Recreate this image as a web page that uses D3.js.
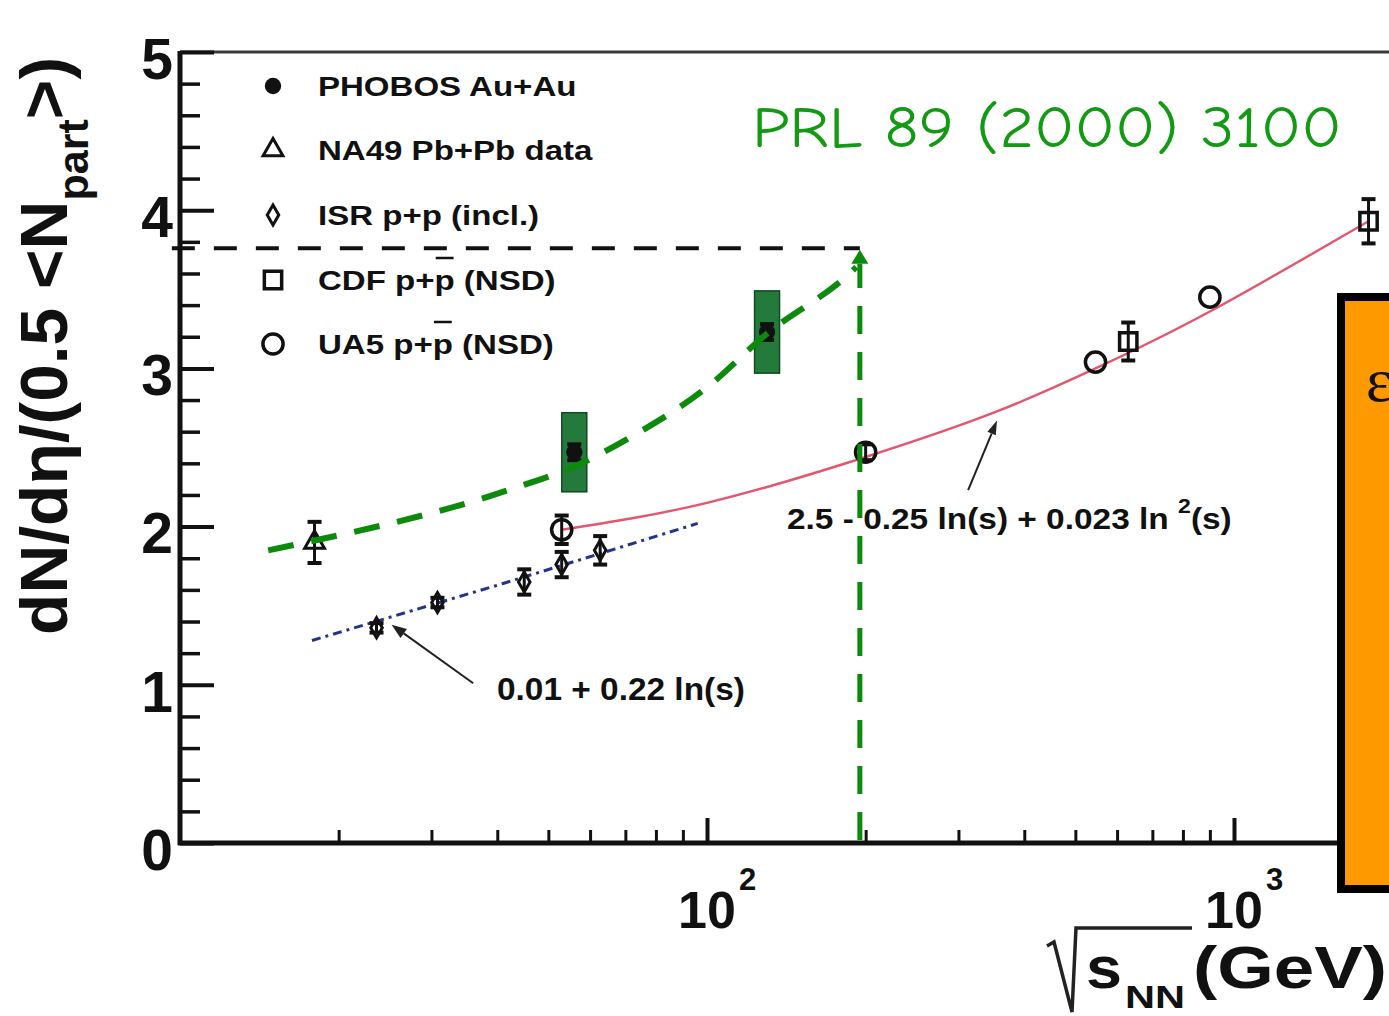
<!DOCTYPE html>
<html>
<head>
<meta charset="utf-8">
<script src="https://cdn.jsdelivr.net/npm/d3@7"></script>
<style>
  html, body { margin: 0; padding: 0; background: #fff; }
  svg { display: block; }
</style>
</head>
<body>
<svg id="chart" width="1389" height="1016"></svg>
<script>
// ---------- data ----------
// PHOBOS Au+Au (sqrt(s_NN) in GeV, dN/deta per participant pair)
const phobosEnergy = [56, 130];
const phobosValue  = [2.47, 3.23];
const phobosStat   = [0.05, 0.05];
const phobosSyst   = [0.25, 0.26];

// NA49 Pb+Pb
const na49Energy = [18];
const na49Value  = [1.90];
const na49Err    = [0.13];

// ISR p+p (inclusive)
const isrEnergy = [23.6, 30.8, 45, 53, 62.7];
const isrValue  = [1.36, 1.52, 1.65, 1.76, 1.85];
const isrErr    = [0.03, 0.03, 0.08, 0.08, 0.09];

// UA5 p+pbar (NSD)
const ua5Energy = [53, 200, 546, 900];
const ua5Value  = [1.98, 2.47, 3.04, 3.45];
const ua5Err    = [0.09, 0.05, 0, 0];

// CDF p+pbar (NSD)
const cdfEnergy = [630, 1800];
const cdfValue  = [3.17, 3.93];
const cdfErr    = [0.12, 0.14];

// fit curves through the p+p(bar) data
const fitLowEnergy  = [17.8, 41, 96];
const fitLowValue   = [1.28, 1.64, 2.02];
const fitHighEnergy = [53, 100, 200, 350, 546, 900, 1800];
const fitHighValue  = [1.98, 2.15, 2.44, 2.72, 3.00, 3.36, 3.93];

// extrapolated heavy-ion trend (green dashed)
const trendEnergy = [14.7, 42.8, 56, 72, 100, 130, 185, 192];
const trendValue  = [1.85, 2.24, 2.38, 2.57, 2.88, 3.22, 3.59, 3.64];

// reference read-off at sqrt(s_NN) ~ 200 GeV
const refEnergy = [9.65, 195];
const refValue  = [0, 3.76];
const refArrowTip = 3.75;

// annotation arrows: [tail, tip] as (energy, value)
const noteLowArrow  = [[36, 1.01], [25.2, 1.38]];
const noteHighArrow = [[313, 2.23], [355, 2.67]];

// axis ticks
const yMajor = [0, 1, 2, 3, 4, 5];
const yMinor = d3.range(0, 5.001, 0.2).filter(v => Math.abs(v - Math.round(v)) > 1e-6);
const xMajor = [100, 1000];
const xMajorExp = ["2", "3"];
const xMinor = [20, 30, 40, 50, 60, 70, 80, 90, 200, 300, 400, 500, 600, 700, 800, 900];

// legend
const legendLabels = ["PHOBOS Au+Au", "NA49 Pb+Pb data", "ISR p+p (incl.)", "CDF p+p (NSD)", "UA5 p+p (NSD)"];
const legendSymbols = ["dot", "triangle", "diamond", "square", "circle"];
const legendBarChar = [-1, -1, -1, 6, 6];   // index of the antiproton "p" that gets an overbar

// ---------- layout ----------
const FONT = "'Liberation Sans', Arial, Helvetica, sans-serif";
const svg = d3.select("#chart");
const x = d3.scaleLog().domain([10, 1000]).range([180, 1234]);
const y = d3.scaleLinear().domain([0, 5]).range([843, 52]);
const X0 = x.range()[0], Y0 = y.range()[0], YTOP = y.range()[1];

function stretchTo(sel, x0, width) {
  const w = sel.node().getBBox().width;
  const k = width / w;
  sel.attr("transform", `translate(${x0},0) scale(${k},1) translate(${-x0},0)`);
}

// ---------- frame ----------
svg.append("line").attr("x1", X0).attr("x2", 1389).attr("y1", YTOP).attr("y2", YTOP)
  .attr("stroke", "#3a3a3a").attr("stroke-width", 3);

// y axis: major ticks with labels, then minor ticks
const yAxisMajor = svg.append("g").attr("transform", `translate(${X0},0)`)
  .call(d3.axisLeft(y).tickValues(yMajor).tickSize(-34).tickPadding(7).tickFormat(d3.format("d")));
yAxisMajor.select(".domain").remove();
yAxisMajor.selectAll(".tick line").attr("stroke", "#111").attr("stroke-width", 4);
yAxisMajor.selectAll(".tick text").attr("dy", "0.46em")
  .style("font", `bold 57px ${FONT}`).attr("fill", "#111");

const yAxisMinor = svg.append("g").attr("transform", `translate(${X0},0)`)
  .call(d3.axisLeft(y).tickValues(yMinor).tickSize(-20).tickFormat(""));
yAxisMinor.select(".domain").remove();
yAxisMinor.selectAll(".tick line").attr("stroke", "#111").attr("stroke-width", 3.5);

// x axis: major and minor ticks pointing inwards
const xAxisMajor = svg.append("g").attr("transform", `translate(0,${Y0})`)
  .call(d3.axisBottom(x).tickValues(xMajor).tickSize(-25).tickFormat(""));
xAxisMajor.select(".domain").remove();
xAxisMajor.selectAll(".tick line").attr("stroke", "#111").attr("stroke-width", 4);

const xAxisMinor = svg.append("g").attr("transform", `translate(0,${Y0})`)
  .call(d3.axisBottom(x).tickValues(xMinor).tickSize(-13).tickFormat(""));
xAxisMinor.select(".domain").remove();
xAxisMinor.selectAll(".tick line").attr("stroke", "#111").attr("stroke-width", 3);

// axis lines
svg.append("line").attr("x1", X0).attr("x2", X0).attr("y1", YTOP - 1).attr("y2", Y0 + 2)
  .attr("stroke", "#111").attr("stroke-width", 5);
svg.append("line").attr("x1", X0 - 2).attr("x2", 1389).attr("y1", Y0).attr("y2", Y0)
  .attr("stroke", "#111").attr("stroke-width", 5);

// x tick labels 10^2, 10^3
xMajor.forEach((v, i) => {
  const cx = x(v);
  svg.append("text").attr("x", cx).attr("y", Y0 + 85).attr("text-anchor", "middle")
    .style("font", `bold 52px ${FONT}`).attr("fill", "#111").text("10");
  svg.append("text").attr("x", cx + 32).attr("y", Y0 + 47)
    .style("font", `bold 31px ${FONT}`).attr("fill", "#111").text(xMajorExp[i]);
});

// y axis title
const yTitle = svg.append("text").attr("text-anchor", "middle")
  .style("font", `bold 66px ${FONT}`).attr("fill", "#111");
yTitle.append("tspan").text("dN/dη/(0.5 <N");
yTitle.append("tspan").attr("dy", 21).style("font-size", "42px").text("part");
yTitle.append("tspan").attr("dy", -21).text(">)");
{
  const w = yTitle.node().getBBox().width;
  yTitle.attr("transform", `translate(67,346) rotate(-90) scale(${578 / w},1)`);
}

// x axis title: radical sign, s_NN, (GeV)
svg.append("path")
  .attr("d", "M1047,946 L1054,942 L1072,1012 L1076,928 L1192,928")
  .attr("fill", "none").attr("stroke", "#222").attr("stroke-width", 3.5)
  .attr("stroke-linejoin", "miter");
const sText = svg.append("text").attr("x", 1086).attr("y", 988)
  .style("font", `bold 60px ${FONT}`).attr("fill", "#111").text("s");
stretchTo(sText, 1086, 36);
const nnText = svg.append("text").attr("x", 1125).attr("y", 1008)
  .style("font", `bold 31px ${FONT}`).attr("fill", "#111").text("NN");
stretchTo(nnText, 1125, 60);
const gevText = svg.append("text").attr("x", 1193).attr("y", 988)
  .style("font", `bold 60px ${FONT}`).attr("fill", "#111").text("(GeV)");
stretchTo(gevText, 1193, 194);

// ---------- marker helpers ----------
const symbolPath = {
  dot:      d3.symbol(d3.symbolCircle, 210)(),
  circle:   d3.symbol(d3.symbolCircle, 320)(),
  square:   d3.symbol(d3.symbolSquare, 300)(),
  triangle: d3.symbol(d3.symbolTriangle, 170)(),
  diamond:  d3.symbol(d3.symbolDiamond, 115)()
};
function drawMarker(g, kind, cx, cy) {
  const p = g.append("path").attr("d", symbolPath[kind])
    .attr("transform", `translate(${cx},${cy})`);
  if (kind === "dot") p.attr("fill", "#111");
  else p.attr("fill", "none").attr("stroke", "#111")
    .attr("stroke-width", kind === "circle" || kind === "square" ? 3.5 : 3);
}
function drawErrorBars(g, energies, values, errs) {
  energies.forEach((e, i) => {
    if (!(errs[i] > 0)) return;
    const cx = x(e), lo = y(values[i] - errs[i]), hi = y(values[i] + errs[i]);
    g.append("line").attr("x1", cx).attr("x2", cx).attr("y1", lo).attr("y2", hi)
      .attr("stroke", "#111").attr("stroke-width", 3);
    [lo, hi].forEach(yy => g.append("line").attr("x1", cx - 7).attr("x2", cx + 7)
      .attr("y1", yy).attr("y2", yy).attr("stroke", "#111").attr("stroke-width", 4));
  });
}
function drawArrow(g, tail, tip, head, width, color, lw) {
  const x1 = x(tail[0]), y1 = y(tail[1]), x2 = x(tip[0]), y2 = y(tip[1]);
  const ang = Math.atan2(y2 - y1, x2 - x1);
  const bx = x2 - head * Math.cos(ang), by = y2 - head * Math.sin(ang);
  g.append("line").attr("x1", x1).attr("y1", y1).attr("x2", bx).attr("y2", by)
    .attr("stroke", color).attr("stroke-width", lw);
  const nx = -Math.sin(ang) * width / 2, ny = Math.cos(ang) * width / 2;
  g.append("polygon")
    .attr("points", `${x2},${y2} ${bx + nx},${by + ny} ${bx - nx},${by - ny}`)
    .attr("fill", color);
}

const plot = svg.append("g");
const line = d3.line().x(d => x(d[0])).y(d => y(d[1]));

// PHOBOS systematic boxes
phobosEnergy.forEach((e, i) => {
  plot.append("rect")
    .attr("x", x(e) - 12.5).attr("width", 25)
    .attr("y", y(phobosValue[i] + phobosSyst[i]))
    .attr("height", y(phobosValue[i] - phobosSyst[i]) - y(phobosValue[i] + phobosSyst[i]))
    .attr("fill", "#237a3a").attr("stroke", "#124a22").attr("stroke-width", 1.5);
});

// fit curves
plot.append("path").datum(d3.zip(fitLowEnergy, fitLowValue))
  .attr("d", line.curve(d3.curveLinear))
  .attr("fill", "none").attr("stroke", "#23338f").attr("stroke-width", 3)
  .attr("stroke-dasharray", "9,5,3,5");
plot.append("path").datum(d3.zip(fitHighEnergy, fitHighValue))
  .attr("d", line.curve(d3.curveNatural))
  .attr("fill", "none").attr("stroke", "#e5566e").attr("stroke-width", 2.4);

// data points
drawErrorBars(plot, na49Energy, na49Value, na49Err);
drawErrorBars(plot, isrEnergy, isrValue, isrErr);
drawErrorBars(plot, ua5Energy, ua5Value, ua5Err);
drawErrorBars(plot, cdfEnergy, cdfValue, cdfErr);
drawErrorBars(plot, phobosEnergy, phobosValue, phobosStat);
na49Energy.forEach((e, i) => drawMarker(plot, "triangle", x(e), y(na49Value[i])));
isrEnergy.forEach((e, i) => drawMarker(plot, "diamond", x(e), y(isrValue[i])));
ua5Energy.forEach((e, i) => drawMarker(plot, "circle", x(e), y(ua5Value[i])));
cdfEnergy.forEach((e, i) => drawMarker(plot, "square", x(e), y(cdfValue[i])));
phobosEnergy.forEach((e, i) => drawMarker(plot, "dot", x(e), y(phobosValue[i])));

// annotations of the fits
drawArrow(plot, noteLowArrow[0], noteLowArrow[1], 15, 11, "#222", 2);
drawArrow(plot, noteHighArrow[0], noteHighArrow[1], 14, 9, "#222", 2);
const lowNote = plot.append("text").attr("x", 497).attr("y", 700)
  .style("font", `bold 32px ${FONT}`).attr("fill", "#111").text("0.01 + 0.22 ln(s)");
stretchTo(lowNote, 497, 248);
const highNote = plot.append("text").attr("x", 787).attr("y", 529)
  .style("font", `bold 29px ${FONT}`).attr("fill", "#111");
highNote.append("tspan").text("2.5 - 0.25 ln(s) + 0.023 ln ");
highNote.append("tspan").attr("dy", -16).style("font-size", "20px").text("2");
highNote.append("tspan").attr("dy", 16).text("(s)");
stretchTo(highNote, 787, 445);

// legend
const legend = svg.append("g");
const legendBase = [96, 160, 225, 290, 354];
legendLabels.forEach((lab, i) => {
  drawMarker(legend, legendSymbols[i], 273, legendBase[i] - 10);
  const g = legend.append("g");
  const t = g.append("text").attr("x", 318).attr("y", legendBase[i])
    .style("font", `bold 28px ${FONT}`).attr("fill", "#111").text(lab);
  if (legendBarChar[i] >= 0) {
    const n = t.node();
    const s = n.getStartPositionOfChar(legendBarChar[i]).x;
    const e = n.getEndPositionOfChar(legendBarChar[i]).x;
    g.append("line").attr("x1", s + 1).attr("x2", e - 1)
      .attr("y1", legendBase[i] - 32).attr("y2", legendBase[i] - 32)
      .attr("stroke", "#111").attr("stroke-width", 2.5);
  }
  g.attr("transform", `translate(318,0) scale(1.18,1) translate(-318,0)`);
});

// heavy-ion trend and read-off lines
plot.append("path").datum(d3.zip(trendEnergy, trendValue))
  .attr("d", line.curve(d3.curveMonotoneX))
  .attr("fill", "none").attr("stroke", "#0b8a0b").attr("stroke-width", 6)
  .attr("stroke-dasharray", "26,18");
plot.append("line")
  .attr("x1", x(refEnergy[0])).attr("x2", x(refEnergy[1]))
  .attr("y1", y(refValue[1])).attr("y2", y(refValue[1]))
  .attr("stroke", "#111").attr("stroke-width", 4).attr("stroke-dasharray", "23,19");
plot.append("line")
  .attr("x1", x(refEnergy[1])).attr("x2", x(refEnergy[1]))
  .attr("y1", y(refValue[0]) - 3).attr("y2", y(refArrowTip) + 14)
  .attr("stroke", "#0b8a0b").attr("stroke-width", 5).attr("stroke-dasharray", "28,18");
{
  const ax = x(refEnergy[1]), ay = y(refArrowTip);
  plot.append("polygon")
    .attr("points", `${ax},${ay} ${ax - 8.5},${ay + 14} ${ax + 8.5},${ay + 14}`)
    .attr("fill", "#0b8a0b");
}

// publication reference
const ref = svg.append("text").attr("x", 752).attr("y", 147)
  .style("font", "58px 'Comic Sans MS', 'Comic Neue', Lato, 'Open Sans', sans-serif")
  .attr("fill", "#129a12").text("PRL 89 (2000) 3100");
stretchTo(ref, 752, 590);

// side panel
svg.append("rect").attr("x", 1341).attr("y", 297).attr("width", 120).attr("height", 592)
  .attr("fill", "#ff9900").attr("stroke", "#000").attr("stroke-width", 8);
svg.append("text").attr("x", 1366).attr("y", 401)
  .style("font", "62px 'Liberation Serif', 'Times New Roman', serif")
  .attr("fill", "#111").text("ε");
</script>
</body>
</html>
